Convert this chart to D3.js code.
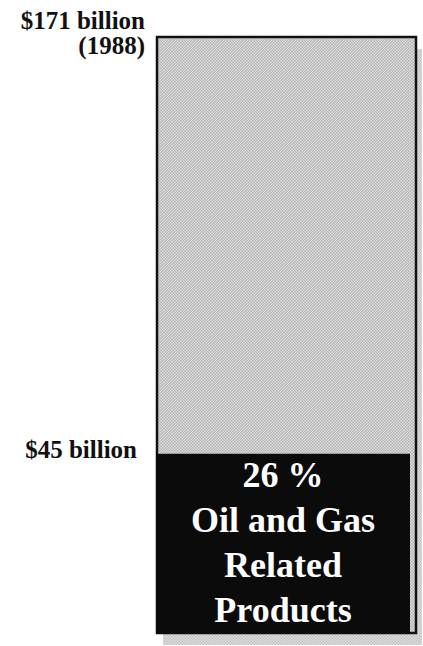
<!DOCTYPE html>
<html>
<head>
<meta charset="utf-8">
<script src="https://cdn.jsdelivr.net/npm/d3@7"></script>
<style>
  html, body { margin: 0; padding: 0; background: #fff; }
  svg { display: block; }
  .lbl { font-family: "Liberation Serif", "DejaVu Serif", serif; font-weight: bold; }
</style>
</head>
<body>
<div id="chart"></div>
<script>
// values
var totalValue = 171;          // $ billion, 1988
var oilValue = 45;             // $ billion
var oilShare = 26;             // percent
var axisLabels = [
  { value: 171, lines: ["$171 billion", "(1988)"] },
  { value: 45, lines: ["$45 billion"] }
];
var oilLines = [oilShare + " %", "Oil and Gas", "Related", "Products"];

var width = 423, height = 646;
var barX = 157, barW = 259;

var svg = d3.select("#chart").append("svg")
  .attr("width", width).attr("height", height);

// halftone-ish patterns
var defs = svg.append("defs");
var pat = defs.append("pattern").attr("id", "dots")
  .attr("width", 3).attr("height", 3).attr("patternUnits", "userSpaceOnUse");
pat.append("rect").attr("width", 3).attr("height", 3).attr("fill", "#dddddd");
pat.append("rect").attr("width", 1.5).attr("height", 1.5).attr("fill", "#b4b4b4");
pat.append("rect").attr("x", 1.5).attr("y", 1.5).attr("width", 1.5).attr("height", 1.5).attr("fill", "#b4b4b4");

var y = d3.scalePow().exponent(0.9)
  .domain([0, totalValue])
  .range([633, 37]);

// drop shadow
svg.append("rect")
  .attr("x", barX + 6).attr("y", y(totalValue) + 12)
  .attr("width", barW).attr("height", y(0) - y(totalValue))
  .attr("fill", "url(#dots)").attr("opacity", 0.85);

// total bar
svg.append("rect")
  .attr("x", barX).attr("y", y(totalValue))
  .attr("width", barW).attr("height", y(0) - y(totalValue))
  .attr("fill", "url(#dots)")
  .attr("stroke", "#111").attr("stroke-width", 2.5);

// oil and gas part
svg.append("rect")
  .attr("x", barX - 1).attr("y", y(oilValue))
  .attr("width", barW - 5).attr("height", y(0) - y(oilValue) + 1)
  .attr("fill", "#0b0b0b");

// labels on the left
var lg = svg.selectAll("g.axl").data(axisLabels).enter().append("g")
  .attr("class", "axl")
  .attr("transform", function(d){
    return d.value === totalValue
      ? "translate(145," + (y(d.value) - 8) + ")"
      : "translate(137," + (y(d.value) + 4) + ")";
  });
lg.selectAll("text").data(function(d){ return d.lines; }).enter().append("text")
  .attr("class", "lbl")
  .attr("text-anchor", "end")
  .attr("x", 0)
  .attr("y", function(d, i){ return i * 25; })
  .attr("font-size", 25)
  .attr("fill", "#111")
  .text(function(d){ return d; });

// text inside the black part
var cx = barX - 1 + (barW - 5) / 2;
svg.selectAll("text.oil").data(oilLines).enter().append("text")
  .attr("class", "lbl oil")
  .attr("text-anchor", "middle")
  .attr("x", cx)
  .attr("y", function(d, i){ return y(oilValue) + 33 + i * 45; })
  .attr("font-size", 36)
  .attr("fill", "#fff")
  .text(function(d){ return d; });
</script>
</body>
</html>
